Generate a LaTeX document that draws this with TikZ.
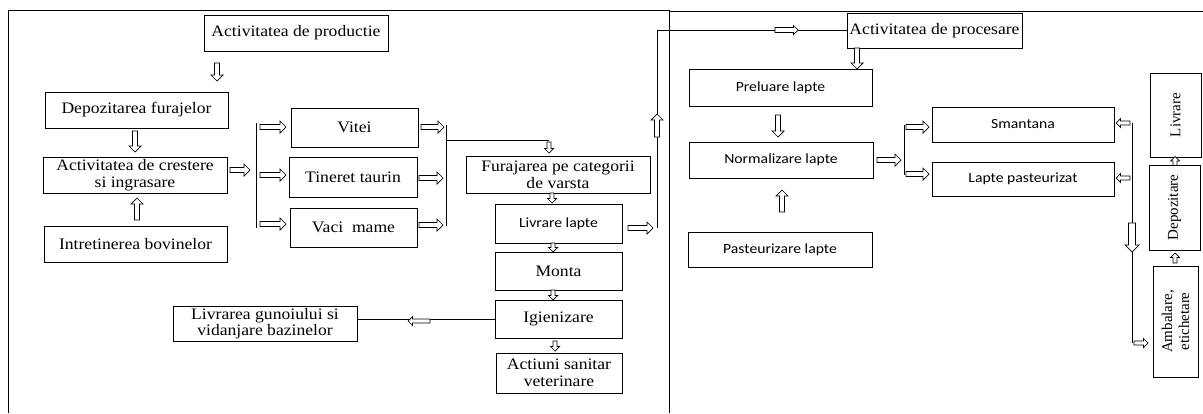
\documentclass[tikz,border=0pt]{standalone}
\usepackage{fontspec}
\setmainfont{Liberation Serif}[FakeStretch=1.1]
\newfontfamily\sansf{Carlito}[FakeStretch=1.12]
\newfontfamily\serifrot{Liberation Serif}
\tikzset{
  box/.style={draw, line width=0.9pt, inner sep=2pt, align=center, font=\fontsize{16}{17}\selectfont},
  sbox/.style={box, font=\sansf\fontsize{14}{16}\selectfont},
  rbox/.style={box, rotate=90, font=\serifrot\fontsize{15}{17}\selectfont},
  link/.style={line width=0.8pt},
  frame/.style={line width=1pt},
  pics/barrow/.style n args={3}{code={
    \draw[line width=0.7pt, fill=white]
      ({-#1/2},{-#2}) -- ({#1/2-#3},{-#2}) -- ({#1/2-#3},{-#3}) -- ({#1/2},0)
      -- ({#1/2-#3},{#3}) -- ({#1/2-#3},{#2}) -- ({-#1/2},{#2}) -- cycle;
  }}
}
\begin{document}
\begin{tikzpicture}[x=1pt,y=-1pt]
\useasboundingbox (0,0) rectangle (1203,413);
% frames
\draw[frame] (8,413) -- (8,10) -- (669,10) -- (669,413);
\draw[frame] (669,11) -- (1203,11);

% left section boxes
\node[box, minimum width=184pt, minimum height=36pt] (prod) at (296,33) {Activitatea de productie};
\node[box, minimum width=183pt, minimum height=36pt] (depo) at (136.5,110) {Depozitarea furajelor};
\node[box, minimum width=184pt, minimum height=35pt] (crest) at (135,175.5) {Activitatea de crestere\\si ingrasare};
\node[box, minimum width=183pt, minimum height=36pt] (intre) at (135.5,244) {Intretinerea bovinelor};
\node[box, minimum width=127pt, minimum height=39pt] (vitei) at (354.5,127.5) {Vitei};
\node[box, minimum width=128pt, minimum height=40pt] (tineret) at (353,177) {Tineret taurin};
\node[box, minimum width=127pt, minimum height=39pt] (vaci) at (353.5,227.5) {Vaci~~mame};
\node[box, minimum width=184pt, minimum height=37pt] (furaj) at (558,174.5) {Furajarea pe categorii\\de varsta};
\node[sbox, minimum width=127pt, minimum height=39pt] (livr) at (558.5,223.5) {Livrare lapte};
\node[box, minimum width=127pt, minimum height=38pt] (monta) at (558.5,271) {Monta};
\node[box, minimum width=127pt, minimum height=38pt] (igien) at (558.5,319) {Igienizare};
\node[box, minimum width=126pt, minimum height=40pt] (actiuni) at (559,373) {Actiuni sanitar\\veterinare};
\node[box, minimum width=184pt, minimum height=35pt, font=\fontsize{16}{14}\selectfont] (gunoi) at (265,323.5) {Livrarea gunoiului si\\vidanjare bazinelor};

% right section boxes
\node[box, minimum width=175pt, minimum height=35pt] (proc) at (934.5,30.5) {Activitatea de procesare};
\node[sbox, minimum width=183pt, minimum height=37pt] (prel) at (780.5,87.5) {Preluare lapte};
\node[sbox, minimum width=184pt, minimum height=36pt] (norm) at (781,160) {Normalizare lapte};
\node[sbox, minimum width=184pt, minimum height=35pt] (past) at (780,249.5) {Pasteurizare lapte};
\node[sbox, minimum width=182pt, minimum height=35pt] (sman) at (1023,124.5) {Smantana};
\node[sbox, minimum width=182pt, minimum height=34pt] (lapte) at (1023,179) {Lapte pasteurizat};
\node[rbox, minimum width=84pt, minimum height=51pt] (livrare) at (1175.5,115) {Livrare};
\node[rbox, minimum width=85pt, minimum height=51pt] (depoz) at (1174.5,207.5) {Depozitare};
\node[rbox, minimum width=111pt, minimum height=45pt] (ambal) at (1175.5,321.5) {Ambalare,\\etichetare};

% connector lines
\coordinate (b1t) at (256,123); \coordinate (b1b) at (256,228);
\draw[link] (b1t) -- (b1b);
\coordinate (b2t) at (446,125); \coordinate (b2b) at (446,226);
\draw[link] (b2t) -- (b2b);
\coordinate (b2m) at (446,140); \coordinate (fin) at (549,140);
\draw[link] (b2m) -- (fin);
\draw[link] (igien.west) -- (gunoi.east |- igien.west);
\coordinate (lv1) at (657,228); \coordinate (lv2) at (657,30);
\draw[link] (lv1) -- (lv2) -- (proc.west |- lv2);
\coordinate (b3t) at (904,125); \coordinate (b3b) at (904,175);
\draw[link] (b3t) -- (b3b);
\coordinate (v4t) at (1132,123); \coordinate (v4b) at (1132,343);
\draw[link] (v4t) -- (v4b);

% block arrows: {length}{shaft half-width}{head half-width}
\pic[rotate=-90] at (217,72) {barrow={18}{2.5}{6}};
\pic[rotate=-90] at (135,141.5) {barrow={21}{2.5}{6}};
\pic[rotate=90] at (137,209) {barrow={22}{2.5}{6}};
\pic at (240,170) {barrow={20}{2.5}{6}};
\pic at (273,127) {barrow={26}{2.5}{6}};
\pic at (273,175) {barrow={26}{2.5}{6}};
\pic at (273,224) {barrow={26}{2.5}{6}};
\pic at (432.5,127) {barrow={23}{2.5}{6}};
\pic at (431,178) {barrow={24}{2.5}{6}};
\pic at (431,225) {barrow={24}{2.5}{6}};
\pic[rotate=-90] at (549,147.5) {barrow={11}{2}{4.5}};
\pic[rotate=-90] at (552,198) {barrow={10}{2}{4.5}};
\pic[rotate=-90] at (553,247.5) {barrow={9}{2}{4.5}};
\pic[rotate=-90] at (553,295) {barrow={10}{2}{4.5}};
\pic[rotate=-90] at (555,346) {barrow={10}{2}{4.5}};
\pic[rotate=180] at (419,321) {barrow={22}{2}{4.5}};
\pic at (640.5,228) {barrow={25}{2.5}{6}};
\pic[rotate=90] at (657,125.5) {barrow={23}{2.5}{6}};
\pic at (786.5,30) {barrow={23}{2.5}{4.5}};
\pic[rotate=-90] at (857,58.5) {barrow={21}{2.5}{6}};
\pic[rotate=-90] at (778,126) {barrow={22}{2.5}{6}};
\pic[rotate=90] at (782,201) {barrow={22}{2.5}{6}};
\pic at (889,160) {barrow={24}{2.5}{6}};
\pic at (917.5,127) {barrow={23}{2.5}{6}};
\pic at (917.5,174) {barrow={23}{2.5}{6}};
\pic[rotate=180] at (1123,123) {barrow={14}{2}{4.5}};
\pic[rotate=180] at (1123,178) {barrow={14}{2}{4.5}};
\pic[rotate=-90] at (1132,237.5) {barrow={29}{3.5}{7}};
\pic at (1141,343) {barrow={14}{2}{4.5}};
\pic[rotate=90] at (1175,258) {barrow={10}{2}{4.5}};
\pic[rotate=90] at (1175,161) {barrow={9}{2}{4.5}};
\end{tikzpicture}
\end{document}
